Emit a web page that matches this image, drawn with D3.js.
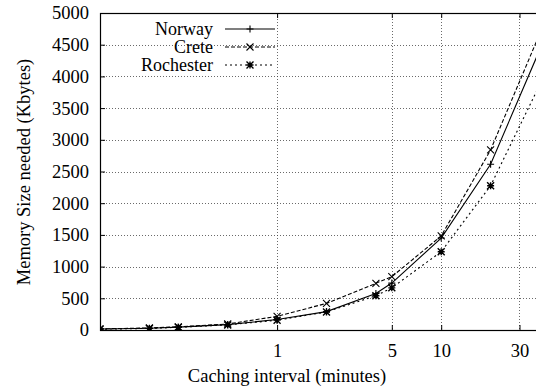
<!DOCTYPE html>
<html>
<head>
<meta charset="utf-8">
<script src="https://cdn.jsdelivr.net/npm/d3@7"></script>
<style>
  html, body { margin: 0; padding: 0; background: #fff; }
  svg { display: block; }
</style>
</head>
<body>
<svg id="chart" width="536" height="390"></svg>
<script>
// Caching interval in minutes (5 s, 10 s, 15 s, 30 s, 1, 2, 4, 5, 10, 20, 60 min)
const intervals = [5/60, 10/60, 15/60, 30/60, 1, 2, 4, 5, 10, 20, 60];

// Memory needed (Kbytes) for each site
const norway     = [15, 28, 45, 85, 165, 290, 575, 740, 1450, 2615, 5490];
const crete      = [18, 32, 50, 95, 215, 420, 736, 841, 1483, 2840, 5760];
const rochester  = [12, 25, 42, 80, 155, 285, 540, 665, 1235, 2276, 4810];

const seriesNames = ["Norway", "Crete", "Rochester"];
const xTickValues = [1, 5, 10, 30];
const yTickValues = [0, 500, 1000, 1500, 2000, 2500, 3000, 3500, 4000, 4500, 5000];

const xTitle = "Caching interval (minutes)";
const yTitle = "Memory Size needed (Kbytes)";

const serif = '"Liberation Serif", "Times New Roman", serif';
const fontSize = 18.5;

const svg = d3.select("#chart");
const plotLeft = 100, plotRight = 540, plotTop = 13, plotBottom = 330;

const x = d3.scaleLog().domain([1/12, 40]).range([plotLeft, plotRight]);
const y = d3.scaleLinear().domain([0, 5000]).range([plotBottom, plotTop]);

// clip region for the data lines
svg.append("defs").append("clipPath").attr("id", "plotClip")
  .append("rect").attr("x", plotLeft).attr("y", plotTop)
  .attr("width", plotRight - plotLeft).attr("height", plotBottom - plotTop);

// dotted grid
const grid = svg.append("g").attr("stroke", "#444").attr("stroke-width", 0.8)
  .attr("stroke-dasharray", "1,2").attr("fill", "none");
grid.selectAll("line.gy").data(yTickValues.filter(v => v > 0 && v < 5000)).join("line")
  .attr("x1", plotLeft).attr("x2", plotRight)
  .attr("y1", d => Math.round(y(d)) + 0.5).attr("y2", d => Math.round(y(d)) + 0.5);
grid.selectAll("line.gx").data(xTickValues).join("line")
  .attr("x1", d => Math.round(x(d)) + 0.5).attr("x2", d => Math.round(x(d)) + 0.5)
  .attr("y1", plotTop).attr("y2", plotBottom);

// axes (ticks point inward, mirrored on top)
const yAxis = d3.axisLeft(y).tickValues(yTickValues).tickFormat(d3.format("d"))
  .tickSizeInner(-5).tickSizeOuter(0).tickPadding(11);
const gy = svg.append("g").attr("transform", `translate(${plotLeft},0)`).call(yAxis);
const xAxis = d3.axisBottom(x).tickValues(xTickValues).tickFormat(d3.format("d"))
  .tickSizeInner(-5).tickSizeOuter(0).tickPadding(14);
const gx = svg.append("g").attr("transform", `translate(0,${plotBottom})`).call(xAxis);
const gxTop = svg.append("g").attr("transform", `translate(0,${plotTop})`)
  .call(d3.axisTop(x).tickValues(xTickValues).tickFormat("").tickSizeInner(-5).tickSizeOuter(0));
[gy, gx, gxTop].forEach(g => {
  g.select(".domain").remove();
  g.selectAll("line").attr("stroke", "#000").attr("stroke-width", 1);
  g.selectAll("text").attr("fill", "#000")
    .style("font-family", serif).style("font-size", fontSize + "px");
});

// frame
svg.append("rect").attr("x", plotLeft + 0.5).attr("y", plotTop + 0.5)
  .attr("width", plotRight - plotLeft).attr("height", plotBottom - plotTop)
  .attr("fill", "none").attr("stroke", "#000").attr("stroke-width", 1.2);

// series
const styles = [
  { name: seriesNames[0], values: norway,    dash: null,  marker: "plus" },
  { name: seriesNames[1], values: crete,     dash: "4,2", marker: "cross" },
  { name: seriesNames[2], values: rochester, dash: "2,3", marker: "star" }
];

function drawMarker(g, type, cx, cy) {
  const s = 3.5;
  const p = d3.path();
  if (type === "plus" || type === "star") {
    p.moveTo(cx - s, cy); p.lineTo(cx + s, cy);
    p.moveTo(cx, cy - s); p.lineTo(cx, cy + s);
  }
  if (type === "cross" || type === "star") {
    p.moveTo(cx - s, cy - s); p.lineTo(cx + s, cy + s);
    p.moveTo(cx - s, cy + s); p.lineTo(cx + s, cy - s);
  }
  g.append("path").attr("d", p.toString()).attr("stroke", "#000")
    .attr("stroke-width", type === "star" ? 1.4 : 1.1).attr("fill", "none");
}

const line = d3.line().x(d => x(d[0])).y(d => y(d[1]));
const plot = svg.append("g").attr("clip-path", "url(#plotClip)");
styles.forEach(s => {
  const pts = intervals.map((t, i) => [t, s.values[i]]);
  plot.append("path").datum(pts).attr("d", line)
    .attr("fill", "none").attr("stroke", "#000").attr("stroke-width", 1.1)
    .attr("stroke-dasharray", s.dash);
  const mg = plot.append("g");
  pts.forEach(p => drawMarker(mg, s.marker, x(p[0]), y(p[1])));
});

// legend
const legend = svg.append("g");
styles.forEach((s, i) => {
  const ly = 29 + i * 18;
  legend.append("text").attr("x", 213).attr("y", ly).attr("dy", "0.33em")
    .attr("text-anchor", "end")
    .style("font-family", serif).style("font-size", "18px").text(s.name);
  legend.append("line").attr("x1", 225).attr("x2", 275).attr("y1", ly).attr("y2", ly)
    .attr("stroke", "#000").attr("stroke-width", 1.1).attr("stroke-dasharray", s.dash);
  drawMarker(legend, s.marker, 250, ly);
});

// axis titles
svg.append("text").attr("x", 287).attr("y", 382).attr("text-anchor", "middle")
  .style("font-family", serif).style("font-size", fontSize + "px").text(xTitle);
svg.append("text").attr("transform", "translate(30,172) rotate(-90)")
  .attr("text-anchor", "middle")
  .style("font-family", serif).style("font-size", fontSize + "px").text(yTitle);
</script>
</body>
</html>
